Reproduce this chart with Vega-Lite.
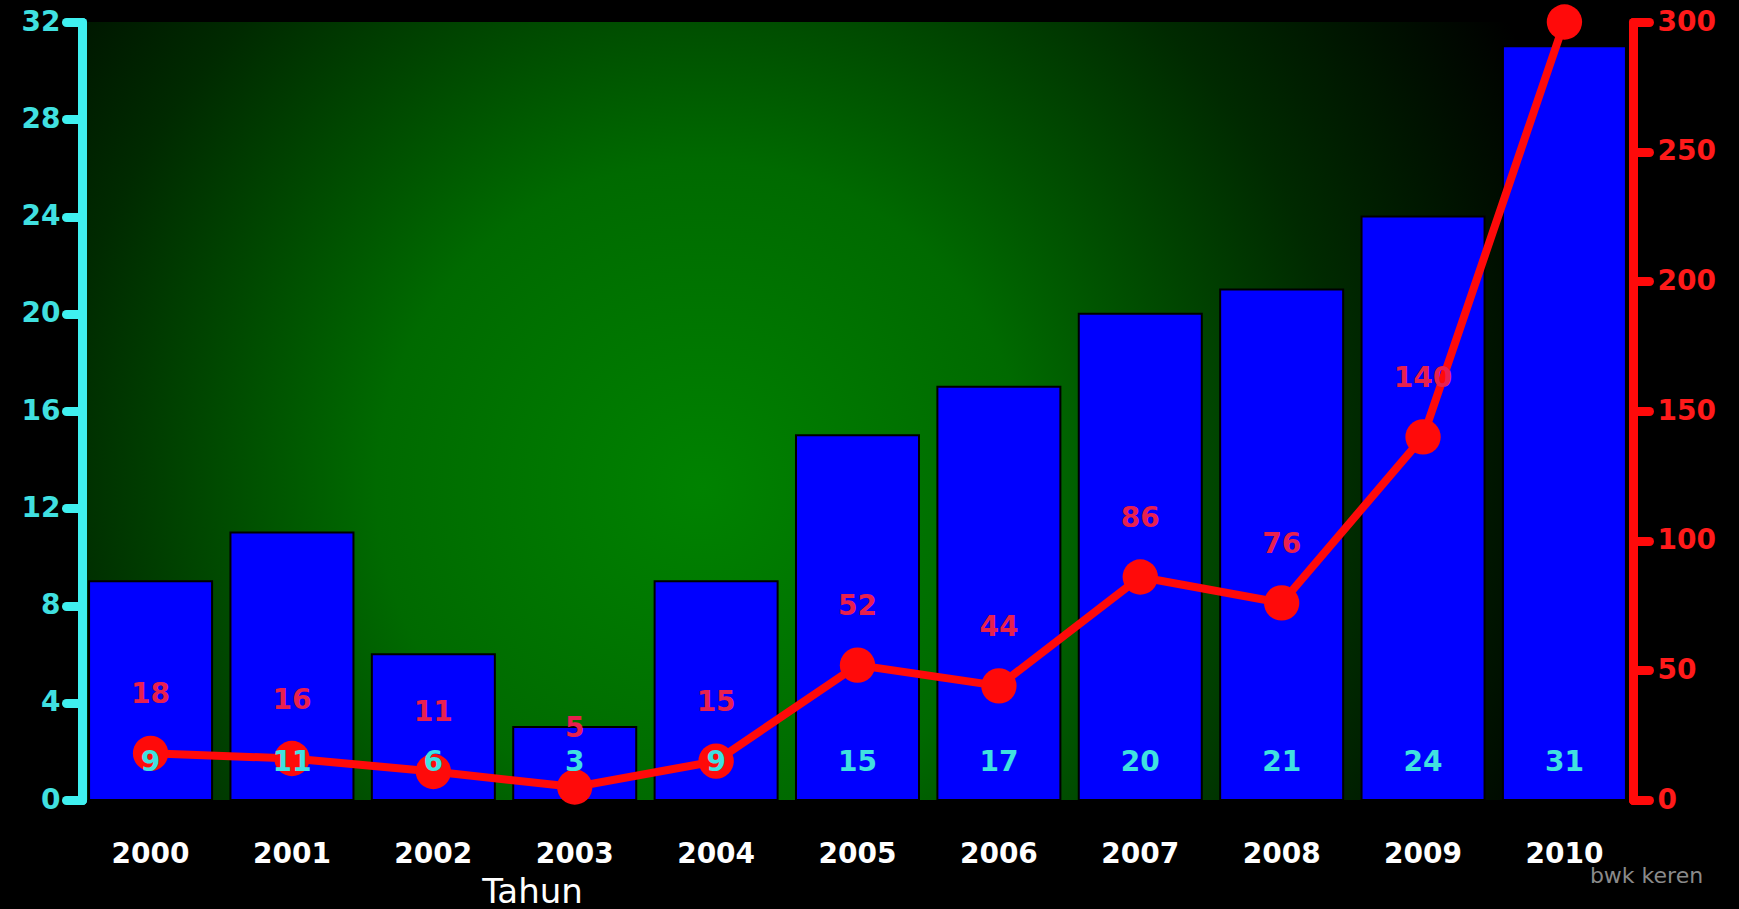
{
  "$schema": "https://vega.github.io/schema/vega-lite/v6.json",
  "width": 1551,
  "height": 778,
  "autosize": {"type": "none"},
  "padding": {"left": 82, "top": 22, "right": 106, "bottom": 109},
  "background": "#000000",
  "config": {"view": {"stroke": null}, "font": "DejaVu Sans"},
  "data": {
    "values": [
      {"year": "2000", "bar": 9, "line": 18},
      {"year": "2001", "bar": 11, "line": 16},
      {"year": "2002", "bar": 6, "line": 11},
      {"year": "2003", "bar": 3, "line": 5},
      {"year": "2004", "bar": 9, "line": 15},
      {"year": "2005", "bar": 15, "line": 52},
      {"year": "2006", "bar": 17, "line": 44},
      {"year": "2007", "bar": 20, "line": 86},
      {"year": "2008", "bar": 21, "line": 76},
      {"year": "2009", "bar": 24, "line": 140},
      {"year": "2010", "bar": 31, "line": 300}
    ]
  },
  "layer": [
    {
      "data": {"values": [{"bg": 1}]},
      "mark": {
        "type": "rect",
        "fill": {
          "gradient": "radial",
          "x1": 0.4, "y1": 0.55, "r1": 0,
          "x2": 0.4, "y2": 0.55, "r2": 0.6,
          "stops": [
            {"offset": 0, "color": "#008200"},
            {"offset": 0.35, "color": "#006a00"},
            {"offset": 0.7, "color": "#002a00"},
            {"offset": 1, "color": "#000000"}
          ]
        }
      },
      "encoding": {}
    },
    {
      "mark": {"type": "bar", "color": "#0000ff", "stroke": "#000000", "strokeWidth": 2},
      "encoding": {
        "x": {
          "field": "year", "type": "nominal",
          "scale": {"paddingInner": 0.13, "paddingOuter": 0.05},
          "axis": {
            "domain": false, "ticks": false, "labelAngle": 0,
            "labelPadding": 40, "labelFontSize": 28, "labelFontWeight": "bold",
            "labelColor": "#ffffff", "labelFont": "DejaVu Sans",
            "title": "Tahun", "titleColor": "#ffffff", "titleFontSize": 34,
            "titleFontWeight": "normal", "titleFont": "DejaVu Sans",
            "titleX": 450, "titleY": 92, "titleAlign": "center", "titleBaseline": "middle"
          }
        },
        "y": {
          "field": "bar", "type": "quantitative",
          "scale": {"domain": [0, 32], "nice": false},
          "axis": {
            "orient": "left", "values": [0, 4, 8, 12, 16, 20, 24, 28, 32],
            "grid": false, "title": null, "zindex": 1,
            "domainColor": "#3ff0f0", "domainWidth": 9, "domainCap": "round",
            "tickColor": "#3ff0f0", "tickWidth": 9, "tickSize": 16, "tickCap": "round",
            "labelColor": "#40e0e0", "labelFontSize": 28, "labelFontWeight": "bold",
            "labelPadding": 6, "labelFont": "DejaVu Sans"
          }
        }
      }
    },
    {
      "mark": {"type": "line", "color": "#ff0a0a", "strokeWidth": 8},
      "encoding": {
        "x": {"field": "year", "type": "nominal"},
        "y": {
          "field": "line", "type": "quantitative",
          "scale": {"domain": [0, 300], "nice": false},
          "axis": {
            "orient": "right", "values": [0, 50, 100, 150, 200, 250, 300],
            "grid": false, "title": "bwk keren", "titleAngle": 0, "zindex": 1,
            "titleX": 13, "titleY": 853, "titleAlign": "center", "titleBaseline": "middle",
            "titleColor": "#8a8a8a", "titleFontSize": 22, "titleFontWeight": "normal",
            "domainColor": "#ff0a0a", "domainWidth": 9, "domainCap": "round",
            "tickColor": "#ff0a0a", "tickWidth": 9, "tickSize": 16, "tickCap": "round",
            "labelColor": "#ff1a1a", "labelFontSize": 28, "labelFontWeight": "bold",
            "labelPadding": 8, "labelFont": "DejaVu Sans"
          }
        }
      }
    },
    {
      "mark": {"type": "point", "filled": true, "color": "#ff0a0a", "size": 1250, "opacity": 1},
      "encoding": {
        "x": {"field": "year", "type": "nominal"},
        "y": {"field": "line", "type": "quantitative", "scale": {"domain": [0, 300], "nice": false}, "axis": null}
      }
    },
    {
      "mark": {"type": "text", "color": "#40e0e0", "fontSize": 28, "fontWeight": "bold", "baseline": "middle", "dy": -37},
      "encoding": {
        "x": {"field": "year", "type": "nominal"},
        "y": {"datum": 0, "type": "quantitative", "scale": {"domain": [0, 32], "nice": false}, "axis": null},
        "text": {"field": "bar", "type": "quantitative"}
      }
    },
    {
      "transform": [{"filter": "datum.year != '2010'"}],
      "mark": {"type": "text", "color": "#e8204e", "fontSize": 28, "fontWeight": "bold", "baseline": "middle", "dy": -58},
      "encoding": {
        "x": {"field": "year", "type": "nominal"},
        "y": {"field": "line", "type": "quantitative", "scale": {"domain": [0, 300], "nice": false}, "axis": null},
        "text": {"field": "line", "type": "quantitative"}
      }
    }
  ],
  "resolve": {"scale": {"y": "independent"}, "axis": {"y": "independent"}}
}
